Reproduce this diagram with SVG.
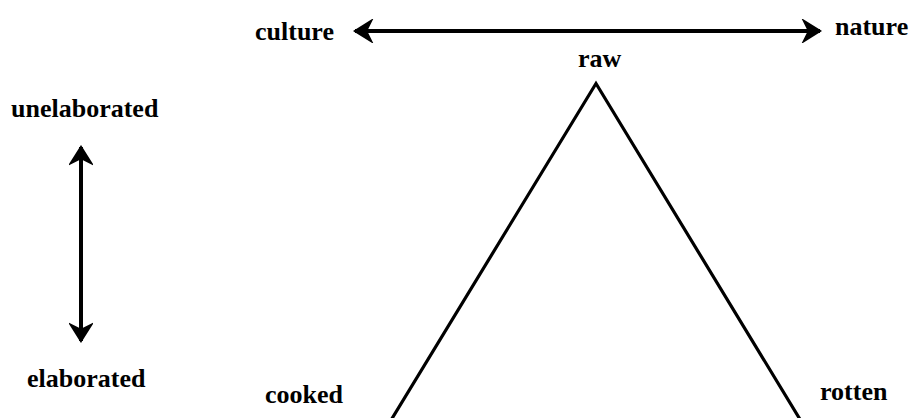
<svg xmlns="http://www.w3.org/2000/svg" width="914" height="418" viewBox="0 0 914 418">
<style>
text{font-family:"Liberation Serif","Times New Roman",serif;font-weight:bold;font-size:26px;fill:#000}
.ln{stroke:#000;fill:none}
</style>
<defs>
<marker id="ah" viewBox="-20 -12 22 24" refX="0" refY="0" markerWidth="22" markerHeight="24" markerUnits="userSpaceOnUse" orient="auto-start-reverse">
<path d="M0,0 L-16,-10 L-11,0 L-16,10 Z" fill="#000" stroke="#000" stroke-width="2.2" stroke-linejoin="miter"/>
</marker>
</defs>
<g id="connectors">
<line class="ln" x1="355" y1="31" x2="820" y2="31" stroke-width="4" marker-start="url(#ah)" marker-end="url(#ah)"/>
<line class="ln" x1="81" y1="147" x2="81" y2="341" stroke-width="4" marker-start="url(#ah)" marker-end="url(#ah)"/>
</g>
<g id="triangle">
<polyline class="ln" points="390.5,421 596,83.5 801,421" stroke-width="3.2" stroke-linejoin="miter"/>
</g>
<g id="n-culture"><text x="255" y="40">culture</text></g>
<g id="n-nature"><text x="835" y="35">nature</text></g>
<g id="n-raw"><text x="578" y="67">raw</text></g>
<g id="n-unelaborated"><text x="11" y="117">unelaborated</text></g>
<g id="n-elaborated"><text x="27" y="387">elaborated</text></g>
<g id="n-cooked"><text x="265" y="403">cooked</text></g>
<g id="n-rotten"><text x="820" y="400">rotten</text></g>
</svg>
